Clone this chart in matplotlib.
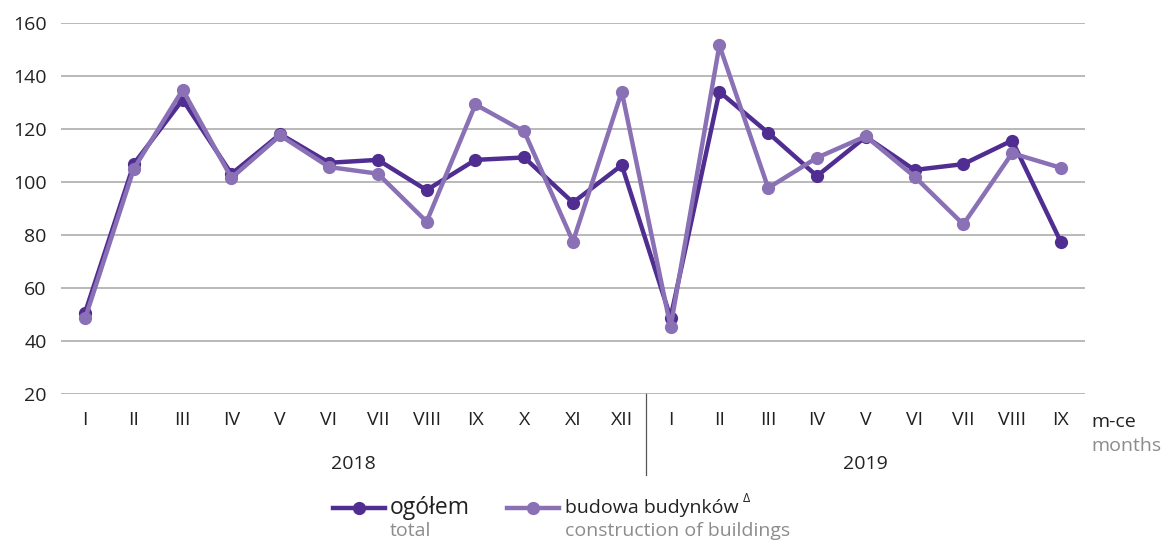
import matplotlib.pyplot as plt
from matplotlib.lines import Line2D

plt.rcParams['font.family'] = ['Open Sans', 'DejaVu Sans']

months = ["I", "II", "III", "IV", "V", "VI", "VII", "VIII", "IX", "X", "XI", "XII",
          "I", "II", "III", "IV", "V", "VI", "VII", "VIII", "IX"]
years = ["2018", "2019"]
total = [50.7, 106.8, 131, 103, 118, 107.2, 108.3, 96.9, 108.3, 109.2, 92.2, 106.3,
         48.8, 134, 118.5, 102.2, 117, 104.5, 106.7, 115.6, 77.3]
buildings = [48.5, 105, 134.7, 101.5, 117.5, 105.6, 103.1, 85, 129.2, 119, 77.5, 134,
             45.3, 151.5, 97.7, 109.1, 117.2, 102, 84, 110.8, 105.3]

dark = "#4f2d91"
light = "#8a70b5"
grid = "#a6a6a6"
fs = 14

fig = plt.figure(figsize=(11.67, 5.42), dpi=100)
ax = fig.add_axes([0.052, 0.273, 0.878, 0.685])

x = list(range(len(months)))
ax.plot(x, total, color=dark, lw=3.2, marker="o", ms=8.5, zorder=3)
ax.plot(x, buildings, color=light, lw=3.2, marker="o", ms=8.5, zorder=4)

ax.set_ylim(20, 160)
ax.set_xlim(-0.5, 20.5)
ax.set_yticks(range(20, 161, 20))
ax.yaxis.grid(True, color=grid, lw=1.1)
ax.set_axisbelow(True)
for s in ax.spines.values():
    s.set_visible(False)
ax.tick_params(axis="y", length=0, pad=10, labelsize=fs, labelcolor="#222222")
ax.set_xticks(x)
ax.set_xticklabels(months)
ax.tick_params(axis="x", length=0, pad=12, labelsize=fs, labelcolor="#222222")

# year separator and labels
ax.plot([11.5, 11.5], [20, -10.5], color="#555555", lw=0.9, clip_on=False)
ax.text(5.5, -6.5, years[0], ha="center", va="center", fontsize=fs, color="#222222")
ax.text(16, -6.5, years[1], ha="center", va="center", fontsize=fs, color="#222222")
ax.text(20.62, 9.3, "m-ce", ha="left", va="center", fontsize=fs, color="#222222")
ax.text(20.62, 0.3, "months", ha="left", va="center", fontsize=fs, color="#8c8c8c")

# legend
ly = 1 - 508 / 542
for x0, col in [(333, dark), (507, light)]:
    fig.add_artist(Line2D([x0 / 1167, (x0 + 52) / 1167], [ly, ly], color=col, lw=3.2,
                          transform=fig.transFigure))
    fig.add_artist(Line2D([(x0 + 26) / 1167], [ly], color=col, marker="o", ms=8.5,
                          transform=fig.transFigure))
fig.text(390 / 1167, ly, "ogółem", ha="left", va="center", fontsize=16.5, color="#222222")
fig.text(390 / 1167, 1 - 531 / 542, "total", ha="left", va="center", fontsize=fs, color="#8c8c8c")
fig.text(565 / 1167, ly, "budowa budynków", ha="left", va="center", fontsize=fs,
         color="#222222")
fig.text(743 / 1167, 1 - 499 / 542, "\u0394", ha="left", va="center", fontsize=9,
         color="#222222")
fig.text(565 / 1167, 1 - 531 / 542, "construction of buildings", ha="left", va="center",
         fontsize=fs, color="#8c8c8c")

fig.savefig("out.png", dpi=100)
